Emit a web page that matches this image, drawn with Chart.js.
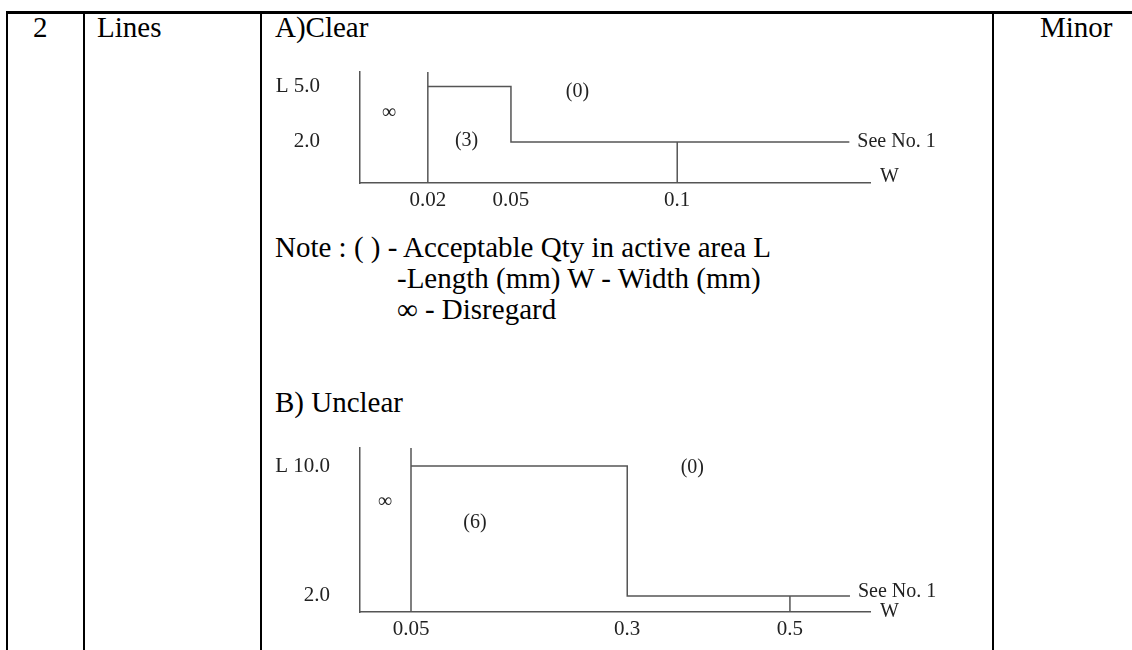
<!DOCTYPE html>
<html>
<head>
<meta charset="utf-8">
<script src="https://cdn.jsdelivr.net/npm/chart.js@4.4.1/dist/chart.umd.min.js"></script>
<style>
  body { margin: 0; width: 1132px; height: 650px; overflow: hidden; background: #fff; position: relative; font-family: "Liberation Serif", serif; color: #000; }
  .rule { position: absolute; background: #000; }
  .txt { position: absolute; font-size: 29px; line-height: 1; white-space: nowrap; }
  canvas { position: absolute; }
</style>
</head>
<body>
<div class="rule" style="left:6px;top:11px;width:1126px;height:3px"></div>
<div class="rule" style="left:6px;top:11px;width:2px;height:639px"></div>
<div class="rule" style="left:83px;top:11px;width:2px;height:639px"></div>
<div class="rule" style="left:260px;top:11px;width:2px;height:639px"></div>
<div class="rule" style="left:992px;top:11px;width:2px;height:639px"></div>

<div class="txt" style="left:33px;top:13px">2</div>
<div class="txt" style="left:97px;top:13px">Lines</div>
<div class="txt" style="left:275px;top:13px">A)Clear</div>
<div class="txt" style="left:1040px;top:13px">Minor</div>

<div class="txt" style="left:275px;top:233px">Note : ( ) - Acceptable Qty in active area L</div>
<div class="txt" style="left:397px;top:264px">-Length (mm) W - Width (mm)</div>
<div class="txt" style="left:397px;top:295px">∞ - Disregard</div>
<div class="txt" style="left:275px;top:388px">B) Unclear</div>

<canvas id="chartA" style="left:260px;top:60px" width="700" height="160"></canvas>
<canvas id="chartB" style="left:260px;top:440px" width="700" height="210"></canvas>

<script>
// A) Clear
const widthsA = [0.02, 0.05, 0.1];
const widthLabelsA = ["0.02", "0.05", "0.1"];
const lengthsA = [2.0, 5.0];
const lengthLabelsA = ["2.0", "5.0"];
const qtyA = ["(3)", "(0)"];

// B) Unclear
const widthsB = [0.05, 0.3, 0.5];
const widthLabelsB = ["0.05", "0.3", "0.5"];
const lengthsB = [2.0, 10.0];
const lengthLabelsB = ["2.0", "10.0"];
const qtyB = ["(6)", "(0)"];

const LINE = "#555";
const INK = "#222";

Chart.defaults.font.family = "Liberation Serif";
Chart.defaults.font.size = 21;
Chart.defaults.color = INK;

// the drawing is not to scale, so the axis is linear between break points
class SchematicScale extends Chart.LinearScale {
  getPixelForValue(value) {
    const stops = this.options.stops;
    let f = 0;
    for (let i = 1; i < stops.length; i++) {
      const [v0, f0] = stops[i - 1];
      const [v1, f1] = stops[i];
      if (value <= v1 || i === stops.length - 1) {
        f = f0 + ((value - v0) / (v1 - v0)) * (f1 - f0);
        break;
      }
    }
    return this.getPixelForDecimal(f);
  }
}
SchematicScale.id = "schematic";
Chart.register(SchematicScale);

const notesPlugin = (items) => ({
  id: "notes",
  afterDraw(chart) {
    const { ctx, chartArea, scales: { x, y } } = chart;
    ctx.save();
    ctx.font = '20px "Liberation Serif"';
    ctx.fillStyle = INK;
    ctx.textBaseline = "middle";
    items.forEach((n) => {
      ctx.textAlign = n.align || "center";
      const px = n.x === "end" ? chartArea.right : x.getPixelForValue(n.x);
      const py = y.getPixelForValue(n.y);
      ctx.fillText(n.text, px + (n.dx || 0), py + (n.dy || 0));
    });
    ctx.restore();
  },
});

const seg = (data) => ({
  data: data,
  borderColor: LINE,
  borderWidth: 1.5,
  pointRadius: 0,
  tension: 0,
  fill: false,
});

const noPadding = (s) => {
  s.paddingTop = 0;
  s.paddingBottom = 0;
  s.paddingLeft = 0;
  s.paddingRight = 0;
};

const buildChart = (id, cfg) => {
  const yTop = cfg.yStops[cfg.yStops.length - 1][0];
  const xEnd = cfg.xStops[cfg.xStops.length - 1][0];
  return new Chart(document.getElementById(id), {
    type: "line",
    data: {
      datasets: [
        // boundary of the "disregard" zone
        seg([{ x: cfg.widths[0], y: 0 }, { x: cfg.widths[0], y: yTop }]),
        // acceptance step
        seg([
          { x: cfg.widths[0], y: cfg.lengths[1] },
          { x: cfg.widths[1], y: cfg.lengths[1] },
          { x: cfg.widths[1], y: cfg.lengths[0] },
          { x: cfg.openEnd, y: cfg.lengths[0] },
        ]),
        // last width mark
        seg([{ x: cfg.widths[2], y: 0 }, { x: cfg.widths[2], y: cfg.lengths[0] }]),
      ],
    },
    options: {
      animation: false,
      responsive: false,
      events: [],
      layout: { padding: { left: 0, top: cfg.padTop, right: 90, bottom: 0 } },
      plugins: { legend: { display: false }, tooltip: { enabled: false } },
      scales: {
        x: {
          type: "schematic",
          min: 0,
          max: xEnd,
          stops: cfg.xStops,
          grid: { display: false, drawTicks: false },
          border: { display: true, color: LINE, width: 1.5 },
          ticks: {
            padding: 5,
            autoSkip: false,
            maxRotation: 0,
            callback: (v, i) => cfg.widthLabels[i],
          },
          afterBuildTicks: (s) => { s.ticks = cfg.widths.map((v) => ({ value: v })); },
          afterFit: (s) => { s.height = cfg.xAxisH; noPadding(s); },
        },
        y: {
          type: "schematic",
          min: 0,
          max: yTop,
          stops: cfg.yStops,
          grid: { display: false, drawTicks: false },
          border: { display: true, color: LINE, width: 1.5 },
          ticks: {
            padding: cfg.yPad,
            autoSkip: false,
            callback: (v, i) => (i === cfg.lengths.length - 1 ? "L " : "") + cfg.lengthLabels[i],
          },
          afterBuildTicks: (s) => { s.ticks = cfg.lengths.map((v) => ({ value: v })); },
          afterFit: (s) => { s.width = 100; noPadding(s); },
        },
      },
    },
    plugins: [notesPlugin(cfg.notes)],
  });
};

buildChart("chartA", {
  widths: widthsA,
  widthLabels: widthLabelsA,
  lengths: lengthsA,
  lengthLabels: lengthLabelsA,
  openEnd: 0.15,
  xStops: [[0, 0], [0.02, 0.133], [0.05, 0.296], [0.1, 0.622], [0.156, 1]],
  yStops: [[0, 0], [2, 0.37], [5, 0.87], [5.8, 1]],
  padTop: 12,
  xAxisH: 37,
  yPad: 40,
  notes: [
    { text: "∞", x: 0.0085, y: 3.6 },
    { text: qtyA[0], x: 0.034, y: 2.05 },
    { text: qtyA[1], x: 0.07, y: 4.7 },
    { text: "See No. 1", x: 0.15, y: 2, align: "left", dx: 8 },
    { text: "W", x: "end", y: 0, align: "left", dx: 10, dy: -6 },
  ],
});

buildChart("chartB", {
  widths: widthsB,
  widthLabels: widthLabelsB,
  lengths: lengthsB,
  lengthLabels: lengthLabelsB,
  openEnd: 0.575,
  xStops: [[0, 0], [0.05, 0.1], [0.3, 0.524], [0.5, 0.843], [0.6, 1]],
  yStops: [[0, 0], [2, 0.098], [10, 0.89], [11, 1]],
  padTop: 8,
  xAxisH: 38,
  yPad: 30,
  notes: [
    { text: "∞", x: 0.0245, y: 7.8 },
    { text: qtyB[0], x: 0.124, y: 6.5 },
    { text: qtyB[1], x: 0.38, y: 9.9 },
    { text: "See No. 1", x: 0.575, y: 2, align: "left", dx: 8, dy: -4 },
    { text: "W", x: "end", y: 0, align: "left", dx: 10, dy: 0 },
  ],
});
</script>
</body>
</html>
